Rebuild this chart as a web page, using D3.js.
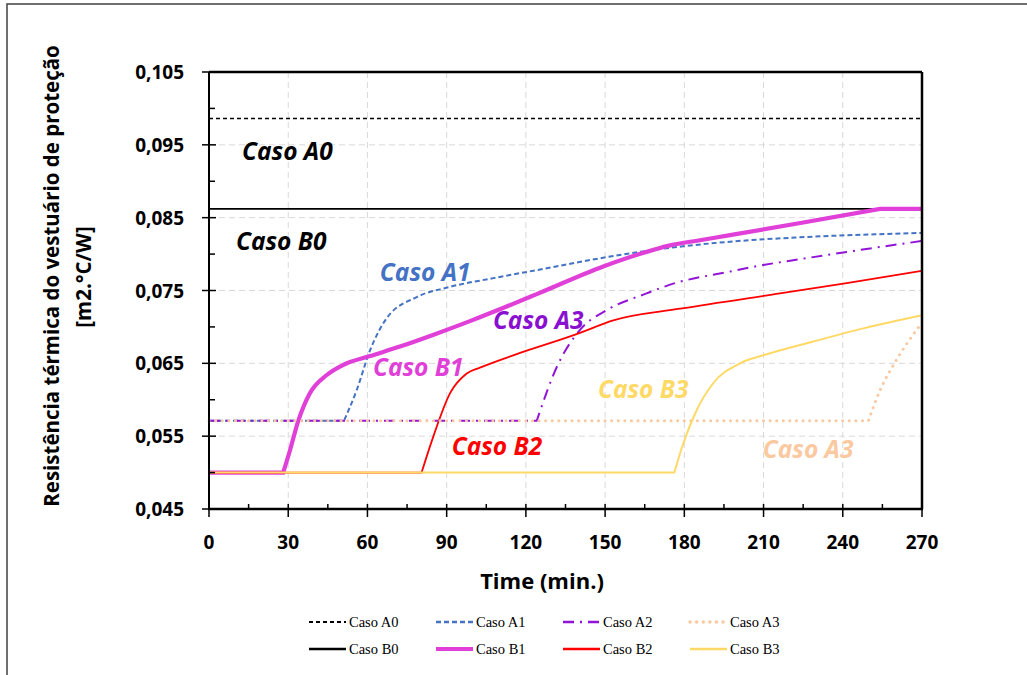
<!DOCTYPE html>
<html>
<head>
<meta charset="utf-8">
<script src="https://cdn.jsdelivr.net/npm/d3@7"></script>
<style>
  body { margin: 0; background: #fff; }
  svg { display: block; }
</style>
</head>
<body>
<script>
// valores (tempo em min., resistência em m2.°C/W)
var caseNames = ["Caso A0", "Caso A1", "Caso A2", "Caso A3", "Caso B0", "Caso B1", "Caso B2", "Caso B3"];

var timeA0 = [0, 270];
var valA0  = [0.0986, 0.0986];

var timeB0 = [0, 270];
var valB0  = [0.0862, 0.0862];

var timeA1 = [0, 51.1, 55.9, 61.0, 67.3, 78.7, 91.3, 107.7, 124.1, 149.3, 167.0, 197.3, 223.8, 270];
var valA1  = [0.0571, 0.0571, 0.0613, 0.0668, 0.0712, 0.0741, 0.0755, 0.0767, 0.0778, 0.0795, 0.0805, 0.0817, 0.0823, 0.0829];

var timeA2 = [0, 124.1, 131.7, 140.5, 150.6, 165.7, 174.6, 197.3, 209.9, 223.8, 241.5, 270];
var valA2  = [0.0571, 0.0571, 0.0645, 0.0696, 0.0723, 0.0746, 0.0758, 0.0776, 0.0785, 0.0793, 0.0803, 0.0818];

var timeA3 = [0, 249.7, 254.1, 260.4, 270];
var valA3  = [0.0571, 0.0571, 0.0613, 0.0655, 0.0706];

var timeB1 = [0, 28.1, 30.7, 33.8, 38.2, 44.6, 50.9, 61.0, 72.3, 84.8, 98.8, 112.0, 124.1, 149.3, 163.0, 174.6, 185.9, 197.3, 224.5, 254.1, 270];
var valB1  = [0.0500, 0.0500, 0.0531, 0.0571, 0.0609, 0.0634, 0.0648, 0.0660, 0.0673, 0.0689, 0.0708, 0.0727, 0.0745, 0.0783, 0.0800, 0.0812, 0.0819, 0.0826, 0.0843, 0.0862, 0.0862];

var timeB2 = [0, 80.5, 84.9, 91.3, 97.6, 102.6, 115.2, 139.2, 153.1, 178.4, 216.2, 241.5, 270];
var valB2  = [0.0500, 0.0500, 0.0549, 0.0609, 0.0636, 0.0644, 0.0661, 0.0690, 0.0709, 0.0725, 0.0746, 0.0760, 0.0777];

var timeB3 = [0, 176.2, 179.6, 184.7, 191.0, 201.1, 209.9, 228.8, 247.8, 270];
var valB3  = [0.0500, 0.0500, 0.0540, 0.0586, 0.0623, 0.0650, 0.0661, 0.0680, 0.0698, 0.0716];

// troço curvo: do índice onsetIdx ao endIdx (fora disso é linha recta)
var onsetIdx = [1, 1, 1, 1, 1, 1, 1, 1];
var endIdx   = [1, 13, 11, 4, 1, 19, 12, 9];

var xTicks = [0, 30, 60, 90, 120, 150, 180, 210, 240, 270];
var yTicks = [0.045, 0.055, 0.065, 0.075, 0.085, 0.095, 0.105];
var xMinor = [15, 45, 75, 105, 135, 165, 195, 225, 255];
var yMinor = [0.05, 0.06, 0.07, 0.08, 0.09, 0.1];

var xTitle = "Time (min.)";
var yTitle1 = "Resistência térmica do vestuário de proteção";
var yTitle2 = "[m2.°C/W]";

// estilos de cada caso
var styles = {
  "Caso A0": { color: "#000000", width: 1.5, dash: "4,3" },
  "Caso A1": { color: "#4472C4", width: 2,   dash: "5,3" },
  "Caso A2": { color: "#9214D6", width: 2,   dash: "11,6,2,6" },
  "Caso A3": { color: "#F9C9A2", width: 3,   dash: "0.1,6.5", cap: "round" },
  "Caso B0": { color: "#000000", width: 1.8, dash: null },
  "Caso B1": { color: "#E03FD8", width: 4.2, dash: null },
  "Caso B2": { color: "#FF0000", width: 1.8, dash: null },
  "Caso B3": { color: "#FFD966", width: 2,   dash: null }
};

// etiquetas dentro do gráfico: texto, cor, posição (em dados)
var labels = [
  { text: "Caso A0", color: "#000000", t: 12.5,  v: 0.0929 },
  { text: "Caso B0", color: "#000000", t: 10.2,  v: 0.0806 },
  { text: "Caso A1", color: "#4472C4", t: 64.7,  v: 0.0763 },
  { text: "Caso A3", color: "#8A10CF", t: 107.5, v: 0.0697 },
  { text: "Caso B1", color: "#E03FD8", t: 62.1,  v: 0.0632 },
  { text: "Caso B2", color: "#FF0000", t: 91.9,  v: 0.0524 },
  { text: "Caso B3", color: "#FFD966", t: 147.3, v: 0.0603 },
  { text: "Caso A3", color: "#FBC9A0", t: 209.7, v: 0.0520 }
];

var W = 1027, H = 675;
var svg = d3.select("body").append("svg").attr("width", W).attr("height", H);

// moldura exterior
svg.append("rect").attr("x", 7).attr("y", 4).attr("width", W + 20).attr("height", H + 20)
  .attr("fill", "none").attr("stroke", "#404040").attr("stroke-width", 1.5);

var x = d3.scaleLinear().domain([0, 270]).range([209, 922]);
var y = d3.scaleLinear().domain([0.045, 0.105]).range([509, 72]);

var fmt = function(d) { return d3.format(".3f")(d).replace(".", ","); };

// grelha
var grid = svg.append("g");
grid.selectAll(".gx").data(xTicks.slice(1, -1)).enter().append("line")
  .attr("x1", d => x(d)).attr("x2", d => x(d)).attr("y1", y(0.105)).attr("y2", y(0.045))
  .attr("stroke", "#D9D9D9").attr("stroke-width", 1).attr("stroke-dasharray", "6,4");
grid.selectAll(".gy").data(yTicks.slice(1, -1)).enter().append("line")
  .attr("x1", x(0)).attr("x2", x(270)).attr("y1", d => y(d)).attr("y2", d => y(d))
  .attr("stroke", "#D9D9D9").attr("stroke-width", 1).attr("stroke-dasharray", "6,4");

// séries
var seriesData = {
  "Caso A0": [timeA0, valA0], "Caso A1": [timeA1, valA1], "Caso A2": [timeA2, valA2], "Caso A3": [timeA3, valA3],
  "Caso B0": [timeB0, valB0], "Caso B1": [timeB1, valB1], "Caso B2": [timeB2, valB2], "Caso B3": [timeB3, valB3]
};
var drawOrder = ["Caso A0", "Caso B0", "Caso A1", "Caso B1", "Caso A2", "Caso B2", "Caso A3", "Caso B3"];

var flat = d3.line().x(d => x(d[0])).y(d => y(d[1]));
var curvy = d3.line().x(d => x(d[0])).y(d => y(d[1])).curve(d3.curveMonotoneX);

var lines = svg.append("g");
drawOrder.forEach(function(name) {
  var t = seriesData[name][0], v = seriesData[name][1];
  var pts = t.map((d, i) => [d, v[i]]);
  var ci = caseNames.indexOf(name);
  var k = onsetIdx[ci], e = endIdx[ci];
  var p;
  if (pts.length <= 2) {
    p = flat(pts);
  } else {
    p = flat(pts.slice(0, k + 1)) + curvy(pts.slice(k, e + 1)).replace(/^M/, "L");
    if (e < pts.length - 1) p += flat(pts.slice(e)).replace(/^M/, "L");
  }
  var st = styles[name];
  lines.append("path").attr("d", p).attr("fill", "none")
    .attr("stroke", st.color).attr("stroke-width", st.width)
    .attr("stroke-dasharray", st.dash)
    .attr("stroke-linecap", st.cap || "butt");
});

// eixos e bordas
var axes = svg.append("g").attr("stroke", "#000");
axes.append("line").attr("x1", x(0)).attr("x2", x(270)).attr("y1", y(0.105)).attr("y2", y(0.105)).attr("stroke-width", 2.5);
axes.append("line").attr("x1", x(270)).attr("x2", x(270)).attr("y1", y(0.105)).attr("y2", y(0.045)).attr("stroke-width", 2.5);
axes.append("line").attr("x1", x(0)).attr("x2", x(0)).attr("y1", y(0.105)).attr("y2", y(0.045) + 1).attr("stroke-width", 2);
axes.append("line").attr("x1", x(0) - 1).attr("x2", x(270) + 1).attr("y1", y(0.045)).attr("y2", y(0.045)).attr("stroke-width", 2.5);

axes.selectAll(".ty").data(yTicks).enter().append("line")
  .attr("x1", x(0) - 7).attr("x2", x(0) + 7).attr("y1", d => y(d)).attr("y2", d => y(d)).attr("stroke-width", 1.5);
axes.selectAll(".tym").data(yMinor).enter().append("line")
  .attr("x1", x(0)).attr("x2", x(0) + 6).attr("y1", d => y(d)).attr("y2", d => y(d)).attr("stroke-width", 1.5);
axes.selectAll(".tx").data(xTicks).enter().append("line")
  .attr("x1", d => x(d)).attr("x2", d => x(d)).attr("y1", y(0.045) - 5).attr("y2", y(0.045) + 8).attr("stroke-width", 1.5);
axes.selectAll(".txm").data(xMinor).enter().append("line")
  .attr("x1", d => x(d)).attr("x2", d => x(d)).attr("y1", y(0.045) - 5).attr("y2", y(0.045)).attr("stroke-width", 1.5);

var sans = "'Open Sans', 'DejaVu Sans', sans-serif";

svg.selectAll(".ly").data(yTicks).enter().append("text")
  .attr("x", 184).attr("y", d => y(d) + 7)
  .attr("text-anchor", "end").style("font-family", sans).style("font-weight", 700).style("font-size", "19px")
  .text(fmt);
svg.selectAll(".lx").data(xTicks).enter().append("text")
  .attr("x", d => x(d)).attr("y", 549)
  .attr("text-anchor", "middle").style("font-family", sans).style("font-weight", 700).style("font-size", "19px")
  .text(d => d);

svg.append("text").attr("x", 542).attr("y", 589).attr("text-anchor", "middle")
  .style("font-family", sans).style("font-weight", 700).style("font-size", "22px").text(xTitle);
svg.append("text").attr("transform", "translate(59,276) rotate(-90)").attr("text-anchor", "middle")
  .style("font-family", sans).style("font-weight", 700).style("font-size", "20.5px").text(yTitle1);
svg.append("text").attr("transform", "translate(91,277) rotate(-90)").attr("text-anchor", "middle")
  .style("font-family", sans).style("font-weight", 700).style("font-size", "20.5px").text(yTitle2);

// etiquetas das curvas
svg.selectAll(".lab").data(labels).enter().append("text")
  .attr("x", d => x(d.t)).attr("y", d => y(d.v))
  .attr("fill", d => d.color)
  .style("font-family", sans).style("font-weight", 700).style("font-style", "italic").style("font-size", "24.5px")
  .text(d => d.text);

// legenda
var legCols = [309, 436, 563, 690], legRows = [622, 649];
var leg = svg.append("g");
caseNames.forEach(function(name, i) {
  var lx = legCols[i % 4], ly = legRows[Math.floor(i / 4)];
  var st = styles[name];
  leg.append("line").attr("x1", lx).attr("x2", lx + 37).attr("y1", ly).attr("y2", ly)
    .attr("stroke", st.color).attr("stroke-width", Math.min(st.width + 0.5, 4))
    .attr("stroke-dasharray", st.dash).attr("stroke-linecap", st.cap || "butt");
  leg.append("text").attr("x", lx + 40).attr("y", ly + 5)
    .style("font-family", "'Liberation Serif', 'DejaVu Serif', serif").style("font-size", "14.5px")
    .text(name);
});
</script>
</body>
</html>
